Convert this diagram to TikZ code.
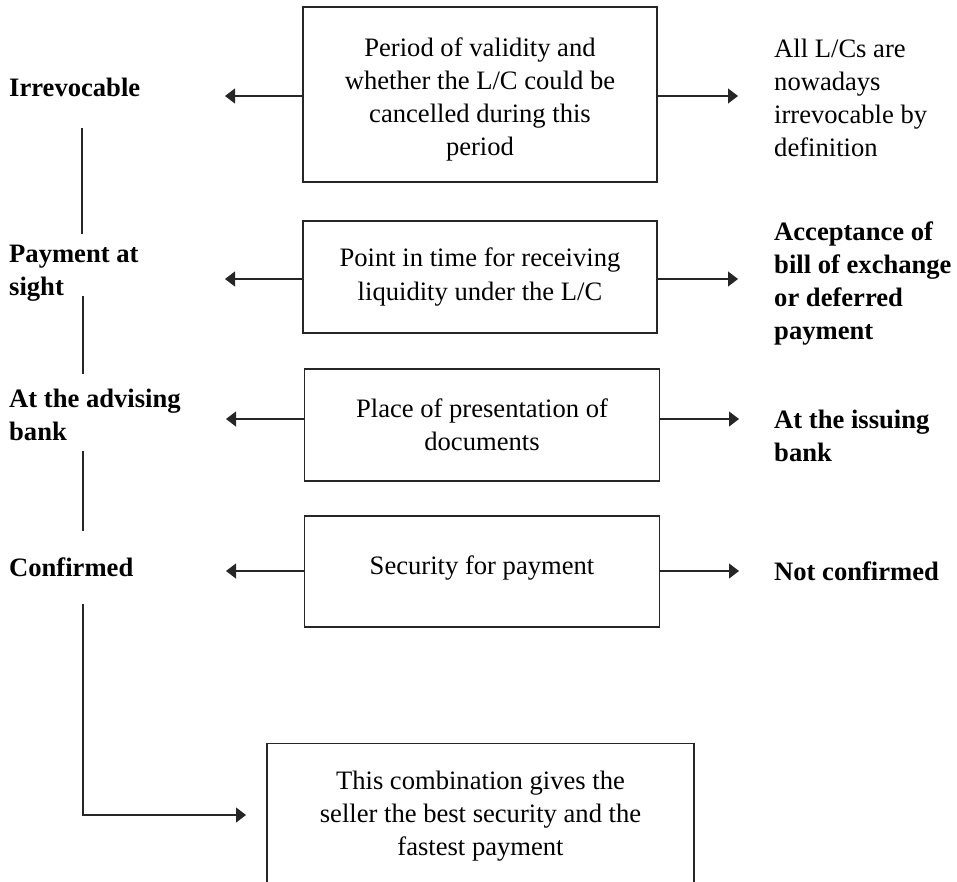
\documentclass[tikz,border=0pt]{standalone}
\usepackage{fontspec}
\setmainfont{Liberation Serif}
\usetikzlibrary{arrows.meta}
\begin{document}
\begin{tikzpicture}[x=1pt,y=-1pt,
  box/.style={draw=black!85, line width=1.3pt, inner sep=0pt, align=center,
    font=\fontsize{26.6}{33}\selectfont},
  btxt/.style={inner sep=0pt, align=center, font=\fontsize{26.6}{33}\selectfont},
  lbl/.style={anchor=west, inner sep=0pt, align=left,
    font=\fontsize{26.6}{33}\selectfont\bfseries},
  rtxt/.style={anchor=west, inner sep=0pt, align=left,
    font=\fontsize{26.6}{33}\selectfont},
  conn/.style={draw=black!85, line width=1.1pt},
  arr/.style={conn, -{Triangle[length=10pt,width=15pt]}}]
\useasboundingbox (0,0) rectangle (957,881);
\clip (0,0) rectangle (957,881);
% boxes
\node[box, minimum width=354pt, minimum height=175pt] (b1) at (480,94.5) {};
\node[btxt] (t1) at (480,99)
  {Period of validity and\\whether the L/C could be\\cancelled during this\\period};
\node[box, minimum width=354pt, minimum height=112pt] (b2) at (480,277)
  {Point in time for receiving\\liquidity under the L/C};
\node[box, minimum width=355pt, minimum height=112pt] (b3) at (482,425)
  {Place of presentation of\\documents};
\node[box, minimum width=355pt, minimum height=111pt, text depth=13pt] (b4) at (482,571.5)
  {Security for payment};
\node[box, minimum width=427pt, minimum height=180pt, anchor=north] (b5) at (480.5,743) {};
\node[btxt] (t5) at (480.5,816)
  {This combination gives the\\seller the best security and the\\fastest payment};
% left labels
\node[lbl] (l1) at (9,87) {Irrevocable};
\node[lbl] (l2) at (9,273) {Payment at\\sight};
\node[lbl] (l3) at (9,415) {At the advising\\bank};
\node[lbl] (l4) at (9,567) {Confirmed};
% right labels
\node[rtxt] (r1) at (774,98) {All L/Cs are\\nowadays\\irrevocable by\\definition};
\node[lbl] (r2) at (774,283) {Acceptance of\\bill of exchange\\or deferred\\payment};
\node[lbl] (r3) at (774,436) {At the issuing\\bank};
\node[lbl] (r4) at (774,571) {Not confirmed};
% arrow tips
\coordinate (a1l) at (225,96);  \coordinate (a1r) at (738,96);
\coordinate (a2l) at (225,279); \coordinate (a2r) at (738,279);
\coordinate (a3l) at (226,419); \coordinate (a3r) at (739,419);
\coordinate (a4l) at (226,571); \coordinate (a4r) at (739,571);
\draw[arr] (b1.west |- a1l) -- (a1l);
\draw[arr] (b1.east |- a1r) -- (a1r);
\draw[arr] (b2.west |- a2l) -- (a2l);
\draw[arr] (b2.east |- a2r) -- (a2r);
\draw[arr] (b3.west |- a3l) -- (a3l);
\draw[arr] (b3.east |- a3r) -- (a3r);
\draw[arr] (b4.west |- a4l) -- (a4l);
\draw[arr] (b4.east |- a4r) -- (a4r);
% vertical connectors
\coordinate (v1a) at (82,128); \coordinate (v1b) at (82,234);
\coordinate (v2a) at (83,296); \coordinate (v2b) at (83,374);
\coordinate (v3a) at (83,451); \coordinate (v3b) at (83,531);
\coordinate (v4a) at (83,604);
\draw[conn] (v1a) -- (v1b);
\draw[conn] (v2a) -- (v2b);
\draw[conn] (v3a) -- (v3b);
\coordinate (a5) at (246,815);
\draw[arr] (v4a) |- (a5);
\end{tikzpicture}
\end{document}
